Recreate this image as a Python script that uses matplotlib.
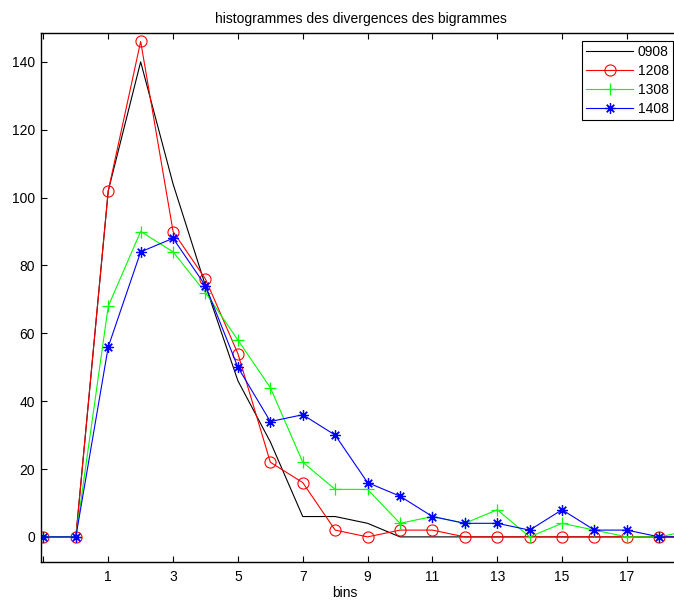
import numpy as np
import matplotlib
matplotlib.use("Agg")
import matplotlib.pyplot as plt

plt.rcParams['font.family'] = ['Liberation Sans', 'DejaVu Sans']

# bins -1 .. 19
bins = list(range(-1, 20))
s0908 = [0, 0, 102, 140, 104, 74, 46, 28, 6, 6, 4, 0, 0, 0, 0, 0, 0, 0, 0, 0, 0]
s1208 = [0, 0, 102, 146, 90, 76, 54, 22, 16, 2, 0, 2, 2, 0, 0, 0, 0, 0, 0, 0, 0]
s1308 = [0, 0, 68, 90, 84, 72, 58, 44, 22, 14, 14, 4, 6, 4, 8, 0, 4, 2, 0, 0, 2]
s1408 = [0, 0, 56, 84, 88, 74, 50, 34, 36, 30, 16, 12, 6, 4, 4, 2, 8, 2, 2, 0, 0]
labels = ['0908', '1208', '1308', '1408']
xtick_pos = [-1, 1, 3, 5, 7, 9, 11, 13, 15, 17]
xtick_lab = ['', '1', '3', '5', '7', '9', '11', '13', '15', '17']
ytick_pos = [0, 20, 40, 60, 80, 100, 120, 140]

fig = plt.figure(figsize=(6.74, 6.0), dpi=100)
W, H = 674, 600
left, right, top, bottom = 40.5, 682, 33, 562
ax = fig.add_axes([left / W, 1 - bottom / H, (right - left) / W, (bottom - top) / H])

lw = 0.8
fs = 10
ax.plot(bins, s0908, color='k', lw=lw, label=labels[0])
ax.plot(bins, s1208, color='#ff0000', lw=lw, marker='o', ms=8, mfc='none',
        mew=0.8, label=labels[1])
ax.plot(bins, s1308, color='#00ff00', lw=lw, marker='+', ms=9, mew=0.9,
        label=labels[2])
ax.plot(bins, s1408, color='#0000ff', lw=lw, marker=(8, 2, 0), ms=7.5, mew=0.9,
        label=labels[3])

ax.set_xlim(-1.09, 18.7)
ax.set_ylim(-7.4, 148.5)
ax.set_xticks(xtick_pos)
ax.set_xticklabels(xtick_lab)
ax.set_yticks(ytick_pos)
ax.tick_params(direction='in', length=4, width=0.8, labelsize=fs,
               top=True, right=True)
ax.tick_params(axis='x', pad=6)
ax.tick_params(axis='y', pad=4)
for sp in ax.spines.values():
    sp.set_linewidth(1.0)

ax.set_title('histogrammes des divergences des bigrammes', fontsize=fs, pad=7)
ax.set_xlabel('bins', fontsize=fs)
ax.xaxis.set_label_coords(0.474, -0.045)

leg = ax.legend(loc='upper left', bbox_to_anchor=(582 / W, 1 - 41 / H),
                bbox_transform=fig.transFigure, fontsize=fs, fancybox=False,
                framealpha=1, edgecolor='k', borderaxespad=0, handlelength=3.4,
                labelspacing=0.35, borderpad=0.3, handletextpad=0.3)
leg.get_frame().set_linewidth(0.8)

fig.savefig('out.png', dpi=100)
